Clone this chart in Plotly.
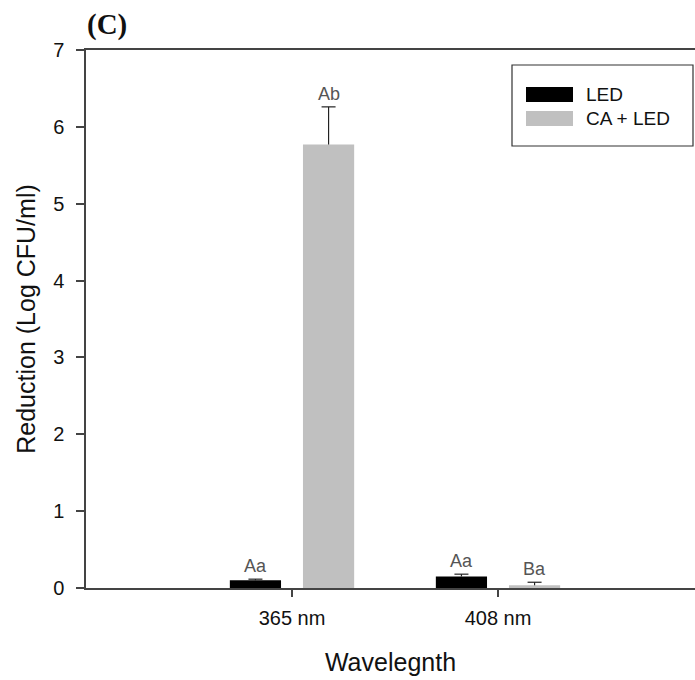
import plotly.graph_objects as go

# ---- data ----
categories = ["365 nm", "408 nm"]
series_names = ["LED", "CA + LED"]
led_values = [0.10, 0.15]
led_errors = [0.015, 0.03]
ca_led_values = [5.77, 0.035]
ca_led_errors = [0.49, 0.04]
led_letters = ["Aa", "Aa"]
ca_led_letters = ["Ab", "Ba"]
y_ticks = [0, 1, 2, 3, 4, 5, 6, 7]

# ---- styling ----
W, H = 695, 680
ML, MR, MT, MB = 86, 0, 50, 92
BARGAP, BARGROUPGAP = 0.29, 0.30
colors = ["#000000", "#c0c0c0"]
font_family = "Liberation Sans, Arial, sans-serif"
axis_color = "#444444"
PX_PER_UNIT_X = 206.0
CAP_HALF_PX = 7

x_pos = list(range(len(categories)))
x_range = [-1, -1 + (W - ML - MR) / PX_PER_UNIT_X]

fig = go.Figure()
for name, vals, col in [
    (series_names[0], led_values, colors[0]),
    (series_names[1], ca_led_values, colors[1]),
]:
    fig.add_trace(go.Bar(
        x=x_pos, y=vals, name=name,
        marker=dict(color=col, line=dict(width=0)),
        showlegend=False, hoverinfo="skip",
    ))

slot = (1 - BARGAP) / 2
offsets = [-slot / 2, slot / 2]
cap_hw = CAP_HALF_PX / PX_PER_UNIT_X

# upper-only error bars (stem + top cap)
ex, ey = [], []
for k, (vals, errs) in enumerate([(led_values, led_errors), (ca_led_values, ca_led_errors)]):
    for i, (v, e) in enumerate(zip(vals, errs)):
        xc = x_pos[i] + offsets[k]
        ex += [xc, xc, None, xc - cap_hw, xc + cap_hw, None]
        ey += [v, v + e, None, v + e, v + e, None]
fig.add_trace(go.Scatter(x=ex, y=ey, mode="lines",
                         line=dict(color="#222222", width=1.2),
                         showlegend=False, hoverinfo="skip"))

# letters above error bars
for k, (vals, errs, letters) in enumerate([
    (led_values, led_errors, led_letters),
    (ca_led_values, ca_led_errors, ca_led_letters),
]):
    for i, (v, e, t) in enumerate(zip(vals, errs, letters)):
        fig.add_annotation(
            x=x_pos[i] + offsets[k], y=v + e, xref="x", yref="y",
            text=t, showarrow=False, yanchor="bottom", yshift=1,
            font=dict(family=font_family, size=18, color="#555555"),
        )

# custom legend (pixel -> paper helper)
pw, ph = W - ML - MR, H - MT - MB
def px(xp):
    return (xp - ML) / pw
def py(yp):
    return (H - MB - yp) / ph

fig.add_shape(type="rect", xref="paper", yref="paper",
              x0=px(512), x1=px(693), y0=py(146), y1=py(65),
              line=dict(color="#333333", width=1.2), fillcolor="white")
for j, (name, col) in enumerate(zip(series_names, colors)):
    top = 87 + j * 24
    fig.add_shape(type="rect", xref="paper", yref="paper",
                  x0=px(526), x1=px(573), y0=py(top + 15), y1=py(top),
                  line=dict(width=0), fillcolor=col)
    fig.add_annotation(x=px(584), y=py(top + 7.5), xref="paper", yref="paper",
                       text=name, showarrow=False, xanchor="left", yanchor="middle",
                       font=dict(family=font_family, size=19, color="#111111"))

# panel label
fig.add_annotation(x=px(107), y=py(25), xref="paper", yref="paper",
                   text="<b>(C)</b>", showarrow=False, xanchor="center", yanchor="middle",
                   font=dict(family="Liberation Serif, Times New Roman, serif", size=29, color="#111111"))

fig.update_layout(
    width=W, height=H,
    margin=dict(l=ML, r=MR, t=MT, b=MB),
    paper_bgcolor="white", plot_bgcolor="white",
    barmode="group", bargap=BARGAP, bargroupgap=BARGROUPGAP,
    font=dict(family=font_family, color="#111111"),
    xaxis=dict(
        range=x_range, tickmode="array", tickvals=x_pos, ticktext=categories,
        showline=True, linecolor=axis_color, linewidth=1.5, mirror=True,
        ticks="outside", ticklen=7, tickcolor=axis_color, tickwidth=1.5,
        showgrid=False, zeroline=False,
        tickfont=dict(size=20, color="#111111"),
        ticklabelstandoff=4,
        title=dict(text="Wavelegnth", font=dict(size=25, color="#111111"), standoff=26),
    ),
    yaxis=dict(
        range=[0, 7], tickmode="array", tickvals=y_ticks,
        showline=True, linecolor=axis_color, linewidth=1.5, mirror=False,
        ticks="outside", ticklen=8, tickcolor=axis_color, tickwidth=1.5,
        showgrid=False, zeroline=False,
        tickfont=dict(size=20, color="#111111"),
        ticklabelstandoff=8,
        title=dict(text="Reduction (Log CFU/ml)", font=dict(size=25, color="#111111"), standoff=10),
    ),
)

fig.write_html("out.html")
